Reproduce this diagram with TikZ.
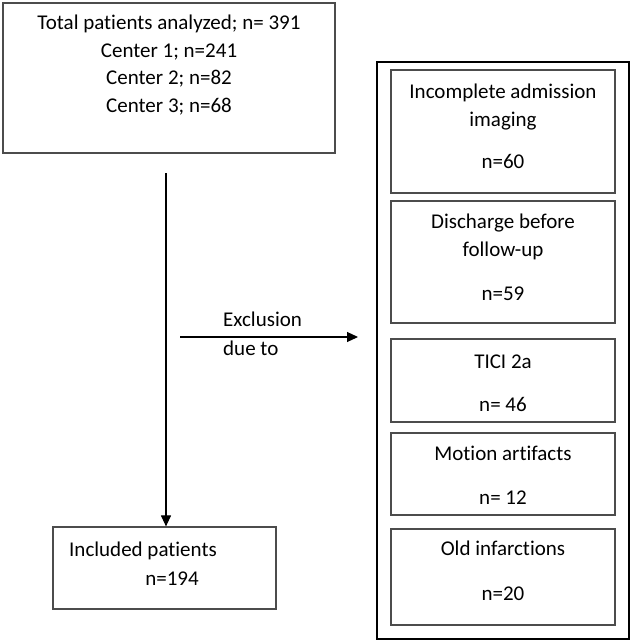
\documentclass[tikz,border=0pt]{standalone}
\usepackage{fontspec}
\setmainfont{Carlito}[Ligatures=NoCommon]
\usetikzlibrary{arrows.meta}
\begin{document}
\begin{tikzpicture}[x=1pt,y=-1pt,
  box/.style={draw=black!70,line width=1.2pt,rectangle,inner sep=0pt},
  outerbox/.style={draw=black,line width=2pt,rectangle,inner sep=0pt},
  txt/.style={inner sep=0pt,font=\fontsize{21}{25}\selectfont,text height=15pt,text depth=5pt},
  arr/.style={draw=black,line width=1.1pt,-{Triangle[length=11pt,width=10pt]}}]
\useasboundingbox (0,0) rectangle (633,643);
% boxes
\node[box,minimum width=332pt,minimum height=150pt] (total) at (169,78) {};
\node[box,minimum width=223pt,minimum height=82pt] (incl) at (164.5,568) {};
\node[outerbox,minimum width=252pt,minimum height=577pt] (outer) at (503,350.5) {};
\node[box,minimum width=224pt,minimum height=123pt] (b1) at (503,131.5) {};
\node[box,minimum width=224pt,minimum height=122pt] (b2) at (503,262) {};
\node[box,minimum width=224pt,minimum height=83pt] (b3) at (503,380.5) {};
\node[box,minimum width=224pt,minimum height=82pt] (b4) at (503,474) {};
\node[box,minimum width=224pt,minimum height=96pt] (b5) at (503,577) {};
% texts
\node[txt] (t1) at (169,24) {Total patients analyzed; n= 391};
\node[txt] (t2) at (169,52) {Center 1; n=241};
\node[txt] (t3) at (169,79.5) {Center 2; n=82};
\node[txt] (t4) at (169,107) {Center 3; n=68};
\node[txt] (b1a) at (503,93) {Incomplete admission};
\node[txt] (b1b) at (503,121) {imaging};
\node[txt] (b1c) at (503,163) {n=60};
\node[txt] (b2a) at (503,223) {Discharge before};
\node[txt] (b2b) at (503,251) {follow-up};
\node[txt] (b2c) at (503,295) {n=59};
\node[txt] (b3a) at (503,363) {TICI 2a};
\node[txt] (b3b) at (503,406) {n= 46};
\node[txt] (b4a) at (503,455) {Motion artifacts};
\node[txt] (b4b) at (503,499) {n= 12};
\node[txt] (b5a) at (503,550) {Old infarctions};
\node[txt] (b5b) at (503,595) {n=20};
\node[txt,anchor=west] (ia) at (69,551) {Included patients};
\node[txt] (ib) at (172,580) {n=194};
\node[txt,anchor=west] (ex1) at (223,321) {Exclusion};
\node[txt,anchor=west] (ex2) at (223,350) {due to};
% connectors
\coordinate (vstart) at (166,173);
\coordinate (hstart) at (180,337);
\coordinate (hend) at (358,337);
\draw[arr] (vstart) -- (vstart |- incl.north);
\draw[arr] (hstart) -- (hend);
\end{tikzpicture}
\end{document}
